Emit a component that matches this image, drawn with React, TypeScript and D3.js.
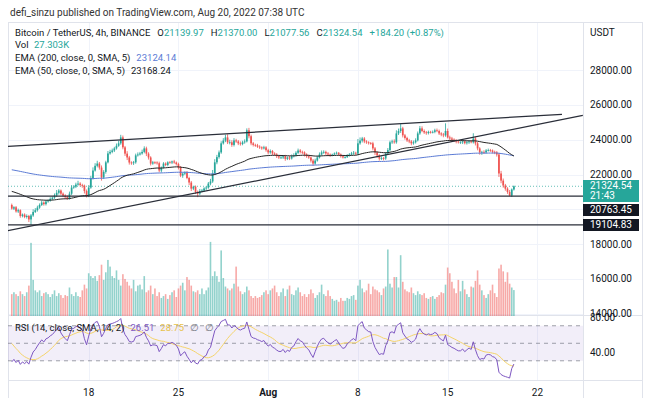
import * as d3 from "d3";
import React, { useRef, useEffect } from "react";

const svgWidth = 660;
const svgHeight = 398;

// 4h closes Jul 6 - Jul 11, only used to warm up RSI / EMA (not drawn)
const warmupCloses = [
  20200, 20300, 20150, 20400, 20500, 20550,
  20600, 20700, 20900, 21100, 21400, 21600,
  21900, 21750, 21800, 21650, 21700, 21600,
  21620, 21700, 21650, 21580, 21600, 21590,
  21500, 21420, 21550, 21300, 21150, 21000,
  20800, 20900, 20700, 20750, 20450, 20250,
];

// BTCUSDT 4h closes, Jul 12 00:00 UTC -> Aug 20 04:00 UTC
const closes = [
  20040, 20120, 19880, 19950, 19620, 19700, // Jul 12
  19560, 19620, 19420, 19650, 19850, 19950, // 13
  20100, 20250, 20390, 20300, 20450, 20500, // 14
  20600, 20670, 20800, 20950, 21080, 20900, // 15
  20790, 20700, 20620, 20900, 21250, 21300, // 16
  21420, 21480, 21400, 21360, 21050, 20790, // 17
  21250, 21800, 22230, 22500, 22630, 22400, // 18
  21830, 22150, 22700, 23210, 23300, 23380, // 19
  23500, 23650, 23790, 24130, 23560, 23200, // 20
  22980, 22690, 22650, 22700, 23100, 23150, // 21
  23210, 23300, 23500, 23200, 22980, 22630, // 22
  22700, 22690, 22650, 22230, 22400, 22630, // 23
  22550, 22700, 22690, 22750, 22690, 22600, // 24
  22400, 21940, 22050, 22120, 21800, 21540, // 25
  21190, 21300, 21000, 20900, 21050, 21080, // 26
  21200, 21250, 21480, 21600, 22060, 22700, // 27
  23000, 23270, 23790, 23950, 24130, 23850, // 28
  23850, 23700, 23960, 23900, 23790, 23750, // 29
  23850, 23900, 24540, 24200, 23790, 23700, // 30
  23670, 23600, 23560, 23500, 23560, 23400, // 31
  23270, 23350, 23210, 23150, 23050, 22980, // Aug 1
  22980, 23050, 22900, 22980, 22920, 23050, // 2
  23100, 23250, 23380, 23300, 23270, 23150, // 3
  23050, 22980, 22800, 22630, 22800, 22980, // 4
  23150, 23270, 23300, 23210, 23150, 23100, // 5
  23150, 23210, 23250, 23150, 23050, 22980, // 6
  23000, 23100, 23150, 23210, 23250, 23200, // 7
  23790, 23950, 24070, 23900, 23850, 23800, // 8
  23790, 23500, 23270, 23100, 22920, 22950, // 9
  22920, 23210, 23400, 23850, 23900, 23850, // 10
  24360, 24500, 24650, 24250, 24100, 23960, // 11
  23900, 23790, 23850, 23960, 24360, 24650, // 12
  24500, 24420, 24380, 24450, 24420, 24450, // 13
  24540, 24500, 24360, 24300, 24250, 24500, // 14
  24130, 24070, 24000, 23960, 23900, 23850, // 15
  23850, 23900, 23800, 23850, 23900, 23850, // 16
  24070, 23790, 23500, 23270, 23300, 23270, // 17
  23380, 23400, 23380, 23300, 23270, 23150, // 18
  22060, 21650, 21370, 21190, 21000, 20790, // 19
  21139.97, 21324.54, // Aug 20
];

// upper wick above max(open, close), in USDT
const highWicks = [
  80, 60, 70, 90, 50, 60, 70, 90, 60, 80, 150, 120,
  110, 90, 120, 70, 80, 60, 90, 70, 110, 160, 80, 60,
  70, 80, 90, 120, 140, 90, 110, 160, 80, 70, 60, 90,
  140, 120, 180, 150, 160, 90, 120, 100, 90, 140, 120, 110,
  90, 130, 150, 150, 110, 80, 140, 90, 70, 80, 100, 120,
  90, 130, 120, 100, 80, 70, 80, 60, 70, 90, 60, 80,
  70, 60, 80, 50, 90, 60, 80, 90, 70, 60, 80, 70,
  90, 60, 70, 80, 120, 90, 70, 80, 90, 150, 200, 180,
  130, 110, 120, 140, 160, 180, 150, 120, 130, 90, 80, 110,
  90, 120, 110, 140, 90, 80, 70, 90, 80, 60, 90, 70,
  80, 90, 60, 70, 80, 60, 90, 70, 80, 60, 90, 100,
  120, 90, 110, 80, 70, 60, 70, 80, 60, 90, 110, 100,
  120, 110, 90, 70, 80, 60, 50, 60, 70, 40, 60, 50,
  60, 70, 80, 90, 100, 60, 250, 180, 90, 80, 70, 60,
  70, 90, 80, 60, 70, 90, 60, 80, 120, 90, 100, 120,
  180, 140, 250, 90, 80, 70, 90, 80, 100, 120, 110, 140,
  120, 90, 80, 70, 60, 80, 90, 100, 80, 70, 90, 440,
  140, 100, 90, 80, 70, 60, 60, 80, 70, 90, 60, 80,
  300, 90, 80, 70, 60, 90, 80, 90, 70, 60, 70, 80,
  90, 150, 120, 90, 80, 110, 60, 45.46,
];

// lower wick below min(open, close), in USDT
const lowWicks = [
  60, 80, 70, 90, 100, 80, 70, 90, 150, 310, 80, 60,
  80, 70, 60, 90, 80, 70, 60, 80, 70, 90, 100, 80,
  90, 100, 70, 60, 80, 70, 80, 60, 90, 120, 140, 110,
  90, 70, 80, 60, 90, 120, 180, 90, 100, 60, 70, 80,
  90, 70, 60, 80, 110, 130, 150, 120, 90, 100, 80, 70,
  60, 70, 80, 140, 120, 110, 70, 90, 80, 100, 120, 60,
  70, 80, 60, 90, 70, 80, 110, 90, 130, 80, 70, 150,
  140, 90, 120, 200, 80, 70, 80, 90, 70, 100, 80, 90,
  110, 90, 80, 70, 90, 100, 120, 110, 90, 80, 100, 90,
  70, 80, 60, 120, 110, 90, 80, 70, 90, 80, 60, 90,
  110, 80, 90, 70, 100, 90, 80, 90, 110, 70, 90, 60,
  70, 60, 80, 90, 100, 110, 90, 80, 110, 130, 70, 60,
  60, 70, 80, 90, 70, 80, 50, 40, 60, 70, 80, 60,
  60, 50, 70, 60, 80, 90, 90, 80, 110, 100, 90, 80,
  80, 110, 150, 130, 120, 90, 110, 80, 60, 70, 90, 80,
  80, 90, 110, 120, 100, 90, 100, 110, 80, 70, 60, 80,
  70, 90, 100, 80, 70, 60, 80, 70, 90, 100, 110, 80,
  60, 120, 100, 90, 110, 70, 90, 100, 70, 80, 90, 60,
  70, 120, 110, 130, 140, 80, 70, 60, 80, 90, 100, 120,
  200, 150, 130, 120, 110, 30, 80, 62.41,
];

// volume, thousands of BTC
const volumes = [
  23, 25, 23, 21, 26, 23, 21, 25, 32, 77, 38, 27,
  25, 27, 21, 24, 25, 23, 20, 23, 27, 21, 24, 22,
  19, 22, 21, 30, 23, 21, 25, 21, 20, 27, 33, 29,
  45, 42, 40, 42, 37, 43, 54, 38, 46, 59, 52, 42,
  40, 48, 38, 32, 44, 39, 36, 32, 29, 38, 26, 32,
  33, 28, 42, 25, 27, 32, 23, 29, 21, 25, 19, 21,
  23, 18, 22, 25, 27, 20, 29, 32, 35, 27, 41, 38,
  32, 26, 25, 27, 23, 29, 23, 27, 30, 78, 42, 47,
  42, 36, 69, 40, 31, 29, 27, 29, 34, 52, 31, 26,
  23, 25, 31, 27, 21, 19, 21, 19, 20, 22, 25, 27,
  23, 27, 29, 32, 25, 21, 25, 29, 21, 28, 32, 23,
  22, 27, 30, 25, 21, 23, 20, 23, 28, 24, 19, 22,
  25, 33, 23, 21, 27, 21, 18, 16, 17, 15, 19, 16,
  16, 19, 18, 21, 22, 17, 32, 38, 29, 25, 27, 34,
  23, 31, 28, 27, 25, 22, 29, 31, 70, 34, 30, 41,
  41, 30, 64, 36, 28, 26, 25, 30, 24, 22, 26, 23,
  22, 24, 19, 18, 20, 21, 18, 20, 22, 25, 24, 33,
  51, 45, 36, 29, 24, 38, 26, 37, 28, 23, 20, 31,
  30, 37, 48, 33, 27, 22, 19, 23, 27, 33, 24, 20,
  50, 54, 47, 36, 46, 34, 30, 27.303,
];

const ema200Seed = 22800;
const ema50Seed = 20900;

const priceTicks = [28000, 26000, 24000, 22000, 20000, 18000, 16000, 14000];
const priceLabels = [28000, 26000, 24000, 22000, 18000, 16000, 14000];
const rsiLabels = [80, 40];
const rsiLevels = [70, 50, 30];
const timeTicks = ["2022-07-18", "2022-07-25", "2022-08-01", "2022-08-08", "2022-08-15", "2022-08-22"];
const hLevels = [20763.45, 19104.83];
const lastPrice = 21324.54;
const trendLines = [
  { t1: "2022-07-11T16:00Z", p1: 23610, t2: "2022-08-23T22:00Z", p2: 25460 },
  { t1: "2022-07-11T16:00Z", p1: 18770, t2: "2022-08-25T13:00Z", p2: 25400 },
];

const UP = "#26a69a";
const DOWN = "#ef5350";
const font = "Roboto, 'Liberation Sans', Arial, sans-serif";

const App = () => {
  const d3Container = useRef(null);

  useEffect(() => {
    const svg = d3.select(d3Container.current);
    svg.selectAll("*").remove();

    const left = 8, right = 583, top = 22, paneBottom = 316, axisTop = 380;

    const x = d3.scaleUtc()
      .domain([new Date("2022-07-18T00:00Z"), new Date("2022-08-22T00:00Z")])
      .range([88.7, 537.4]);
    const y = d3.scaleLinear().domain([13873, 30761]).range([paneBottom, top]);
    const yVol = d3.scaleLinear().domain([0, 80]).range([paneBottom, paneBottom - 76]);
    const yRsi = d3.scaleLinear().domain([10, 80]).range([378.3, 317]);

    const t0 = Date.UTC(2022, 6, 12);
    const bars = closes.map((c, i) => {
      const o = i === 0 ? warmupCloses[warmupCloses.length - 1] : closes[i - 1];
      return {
        t: new Date(t0 + i * 4 * 3600 * 1000),
        o, c,
        h: Math.max(o, c) + highWicks[i],
        l: Math.min(o, c) - lowWicks[i],
        v: volumes[i],
      };
    });

    // indicators
    const all = warmupCloses.concat(closes);
    const n0 = warmupCloses.length;
    const ema = (seed, len) => {
      const a = 2 / (len + 1);
      let e = seed;
      return all.map(c => (e = e + a * (c - e))).slice(n0);
    };
    const ema200 = ema(ema200Seed, 200);
    const ema50 = ema(ema50Seed, 50);

    const rsiAll = [NaN];
    let ag = 0, al = 0;
    for (let k = 1; k < all.length; k++) {
      const ch = all[k] - all[k - 1];
      const g = Math.max(ch, 0), l = Math.max(-ch, 0);
      if (k <= 14) {
        ag += g / 14; al += l / 14;
        rsiAll.push(k < 14 ? NaN : 100 - 100 / (1 + ag / al));
      } else {
        ag = (ag * 13 + g) / 14; al = (al * 13 + l) / 14;
        rsiAll.push(100 - 100 / (1 + ag / al));
      }
    }
    const rsiMa = rsiAll.map((r, k) => {
      if (k < 27) return NaN;
      return d3.mean(rsiAll.slice(k - 13, k + 1));
    });
    const rsi = rsiAll.slice(n0);
    const rsiSma = rsiMa.slice(n0);

    svg.attr("font-family", font);

    // frame & grid
    svg.append("rect").attr("x", 0).attr("y", 0).attr("width", svgWidth).attr("height", svgHeight).attr("fill", "#fff");
    const grid = svg.append("g").attr("stroke", "#f0f3fa").attr("stroke-width", 1);
    timeTicks.forEach(t => {
      const xx = Math.round(x(new Date(t + "T00:00Z"))) + 0.5;
      grid.append("line").attr("x1", xx).attr("x2", xx).attr("y1", top).attr("y2", axisTop);
    });
    priceTicks.forEach(p => {
      const yy = Math.round(y(p)) + 0.5;
      grid.append("line").attr("x1", left).attr("x2", right).attr("y1", yy).attr("y2", yy);
    });

    const frame = svg.append("g").attr("stroke", "#e0e3eb").attr("fill", "none");
    frame.append("rect").attr("x", left + 0.5).attr("y", top + 0.5).attr("width", 642 - left).attr("height", svgHeight - top);
    frame.append("line").attr("x1", right + 0.5).attr("x2", right + 0.5).attr("y1", top).attr("y2", svgHeight);
    frame.append("line").attr("x1", left).attr("x2", 642).attr("y1", paneBottom - 0.5).attr("y2", paneBottom - 0.5);
    frame.append("line").attr("x1", left).attr("x2", 642).attr("y1", axisTop + 0.5).attr("y2", axisTop + 0.5);

    svg.append("clipPath").attr("id", "pricePane")
      .append("rect").attr("x", left).attr("y", top).attr("width", right - left).attr("height", paneBottom - top);
    svg.append("clipPath").attr("id", "rsiPane")
      .append("rect").attr("x", left).attr("y", paneBottom).attr("width", right - left).attr("height", axisTop - paneBottom);

    const price = svg.append("g").attr("clip-path", "url(#pricePane)");

    // volume
    price.append("g").selectAll("rect").data(bars).enter().append("rect")
      .attr("x", d => x(d.t) - 0.8)
      .attr("width", 1.6)
      .attr("y", d => yVol(d.v))
      .attr("height", d => paneBottom - yVol(d.v))
      .attr("fill", d => d.c >= d.o ? "rgba(38,166,154,0.5)" : "rgba(239,83,80,0.5)");

    // last price dotted line
    price.append("line")
      .attr("x1", left).attr("x2", right)
      .attr("y1", y(lastPrice)).attr("y2", y(lastPrice))
      .attr("stroke", UP).attr("stroke-width", 1).attr("stroke-dasharray", "1,2").attr("opacity", 0.7);

    // candles
    const candles = price.append("g");
    candles.selectAll("line").data(bars).enter().append("line")
      .attr("x1", d => x(d.t)).attr("x2", d => x(d.t))
      .attr("y1", d => y(d.h)).attr("y2", d => y(d.l))
      .attr("stroke", d => d.c >= d.o ? UP : DOWN).attr("stroke-width", 0.8);
    candles.selectAll("rect").data(bars).enter().append("rect")
      .attr("x", d => x(d.t) - 0.85)
      .attr("width", 1.7)
      .attr("y", d => y(Math.max(d.o, d.c)))
      .attr("height", d => Math.max(0.8, Math.abs(y(d.o) - y(d.c))))
      .attr("fill", d => d.c >= d.o ? UP : DOWN);

    // EMAs
    const emaLine = d3.line().x((d, i) => x(bars[i].t)).y(d => y(d));
    price.append("path").attr("d", emaLine(ema200)).attr("fill", "none").attr("stroke", "#5b7bd5").attr("stroke-width", 1);
    price.append("path").attr("d", emaLine(ema50)).attr("fill", "none").attr("stroke", "#262626").attr("stroke-width", 1);

    // drawings
    trendLines.forEach(tl => {
      price.append("line")
        .attr("x1", x(new Date(tl.t1))).attr("y1", y(tl.p1))
        .attr("x2", x(new Date(tl.t2))).attr("y2", y(tl.p2))
        .attr("stroke", "#2a2e39").attr("stroke-width", 1.2);
    });
    hLevels.forEach(p => {
      price.append("line").attr("x1", left).attr("x2", right).attr("y1", y(p)).attr("y2", y(p))
        .attr("stroke", "#2a2e39").attr("stroke-width", 1.2);
    });

    // RSI pane
    const rsiG = svg.append("g").attr("clip-path", "url(#rsiPane)");
    rsiG.append("rect").attr("x", left).attr("width", right - left)
      .attr("y", yRsi(70)).attr("height", yRsi(30) - yRsi(70)).attr("fill", "rgba(126,87,194,0.1)");
    rsiLevels.forEach(r => {
      rsiG.append("line").attr("x1", left).attr("x2", right).attr("y1", yRsi(r)).attr("y2", yRsi(r))
        .attr("stroke", "#787b86").attr("stroke-dasharray", "4,4").attr("opacity", 0.7);
    });
    const rsiLine = d3.line().defined(d => !isNaN(d)).x((d, i) => x(bars[i].t)).y(d => yRsi(d));
    rsiG.append("path").attr("d", rsiLine(rsiSma)).attr("fill", "none").attr("stroke", "#f5d46a").attr("stroke-width", 1);
    rsiG.append("path").attr("d", rsiLine(rsi)).attr("fill", "none").attr("stroke", "#7e57c2").attr("stroke-width", 1);

    // right price axis
    const axisG = svg.append("g").attr("font-size", 10).attr("fill", "#131722");
    priceLabels.forEach(p => {
      axisG.append("text").attr("x", 590).attr("y", y(p) + 3.5).text(p.toFixed(2));
    });
    rsiLabels.forEach(r => {
      axisG.append("text").attr("x", 590).attr("y", yRsi(r) + 3.5).text(r.toFixed(2));
    });
    axisG.append("text").attr("x", 590).attr("y", 36).text("USDT");

    // price markers
    const marker = (y1, h, fill, lines) => {
      svg.append("rect").attr("x", right).attr("y", y1).attr("width", 56).attr("height", h).attr("fill", fill);
      lines.forEach((s, k) => {
        svg.append("text").attr("x", 590).attr("y", y1 + 9 + k * 10).attr("font-size", 10).attr("fill", "#fff").text(s);
      });
    };
    marker(180, 22, UP, [lastPrice.toFixed(2), "21:43"]);
    marker(204, 12, "#131722", [hLevels[0].toFixed(2)]);
    marker(219, 12, "#131722", [hLevels[1].toFixed(2)]);

    // time axis
    timeTicks.forEach(t => {
      const d = new Date(t + "T00:00Z");
      const isMonth = d.getUTCDate() === 1;
      svg.append("text").attr("x", x(d)).attr("y", 396).attr("text-anchor", "middle")
        .attr("font-size", 10).attr("font-weight", isMonth ? "bold" : "normal").attr("fill", "#131722")
        .text(isMonth ? d3.utcFormat("%b")(d) : d3.utcFormat("%-d")(d));
    });

    // header & legends
    svg.append("text").attr("x", 10).attr("y", 16).attr("font-size", 10).attr("fill", "#333")
      .text("defi_sinzu published on TradingView.com, Aug 20, 2022 07:38 UTC");

    const last = bars[bars.length - 1];
    const leg = svg.append("g").attr("font-size", 9.5);
    const row1 = leg.append("text").attr("y", 36);
    row1.append("tspan").attr("x", 15).attr("fill", "#131722").text("Bitcoin / TetherUS, 4h, BINANCE");
    [["O", last.o], ["H", last.h], ["L", last.l], ["C", last.c]].forEach(([k, v]) => {
      row1.append("tspan").attr("dx", 7).attr("fill", "#131722").text(k);
      row1.append("tspan").attr("fill", UP).text(v.toFixed(2));
    });
    row1.append("tspan").attr("dx", 7).attr("fill", UP).text("+184.20 (+0.87%)");

    const row2 = leg.append("text").attr("y", 48);
    row2.append("tspan").attr("x", 15).attr("fill", "#131722").text("Vol");
    row2.append("tspan").attr("x", 34).attr("fill", UP).text(last.v.toFixed(3) + "K");

    const row3 = leg.append("text").attr("y", 61);
    row3.append("tspan").attr("x", 15).attr("fill", "#131722").text("EMA (200, close, 0, SMA, 5)");
    row3.append("tspan").attr("dx", 6).attr("fill", "#5b7bd5").text("23124.14");

    const row4 = leg.append("text").attr("y", 74);
    row4.append("tspan").attr("x", 15).attr("fill", "#131722").text("EMA (50, close, 0, SMA, 5)");
    row4.append("tspan").attr("dx", 6).attr("fill", "#131722").text("23168.24");

    const row5 = leg.append("text").attr("y", 331);
    row5.append("tspan").attr("x", 15).attr("fill", "#131722").text("RSI (14, close, SMA, 14, 2)");
    row5.append("tspan").attr("dx", 6).attr("fill", "#7e57c2").text("26.51");
    row5.append("tspan").attr("dx", 6).attr("fill", "#e8c24a").text("28.75");
    row5.append("tspan").attr("dx", 6).attr("fill", "#787b86").text("∅");
    row5.append("tspan").attr("dx", 6).attr("fill", "#787b86").text("∅");
  }, []);

  return (
    <svg
      ref={d3Container}
      width={svgWidth}
      height={svgHeight}
      style={{ position: "absolute", left: 0, top: 0 }}
    />
  );
};

export default App;
